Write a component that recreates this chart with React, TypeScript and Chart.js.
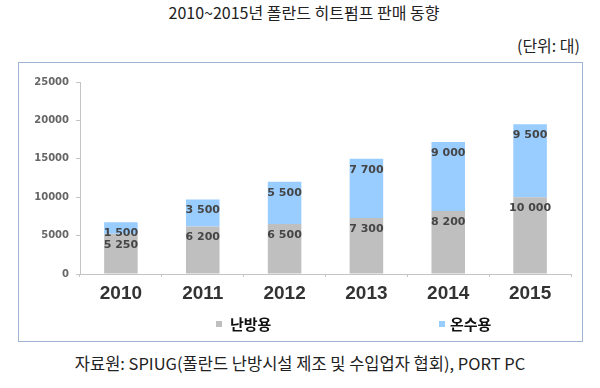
import React, { useEffect, useRef } from "react";
import { Chart, registerables } from "chart.js";

Chart.register(...registerables);

const title = "2010~2015년 폴란드 히트펌프 판매 동향";
const unitNote = "(단위: 대)";
const sourceNote = "자료원: SPIUG(폴란드 난방시설 제조 및 수입업자 협회), PORT PC";

const years = ["2010", "2011", "2012", "2013", "2014", "2015"];
const heating = [5250, 6200, 6500, 7300, 8200, 10000];
const hotWater = [1500, 3500, 5500, 7700, 9000, 9500];
const seriesNames = ["난방용", "온수용"];
const seriesColors = ["#bfbfbf", "#99ccff"];
const yMin = 0;
const yMax = 25000;
const yStep = 5000;

const fmt = (v: number) => String(v).replace(/\B(?=(\d{3})+(?!\d))/g, " ");

const valueLabels = {
  id: "valueLabels",
  afterDatasetsDraw(chart: any) {
    const ctx = chart.ctx;
    ctx.save();
    ctx.font = "bold 11px 'DejaVu Sans'";
    ctx.fillStyle = "#454545";
    ctx.textAlign = "center";
    ctx.textBaseline = "middle";
    chart.data.datasets.forEach((ds: any, i: number) => {
      const meta = chart.getDatasetMeta(i);
      meta.data.forEach((el: any, j: number) => {
        ctx.fillText(fmt(ds.data[j]), el.x, el.y + 11);
      });
    });
    ctx.restore();
  },
};

const customLegend = {
  id: "customLegend",
  afterDraw(chart: any) {
    const ctx = chart.ctx;
    const items = [
      { mx: 200, tx: 211 },
      { mx: 423, tx: 431 },
    ];
    const y = 261;
    ctx.save();
    ctx.font = "bold 15px 'Noto Sans CJK KR'";
    ctx.textBaseline = "middle";
    ctx.textAlign = "left";
    chart.data.datasets.forEach((ds: any, i: number) => {
      const it = items[i];
      if (!it) return;
      ctx.fillStyle = ds.backgroundColor;
      ctx.fillRect(it.mx - 3, y - 3, 6, 6);
      ctx.fillStyle = "#111";
      ctx.fillText(ds.label, it.tx, y);
    });
    ctx.restore();
  },
};

export default function App() {
  const ref = useRef<HTMLCanvasElement>(null);

  useEffect(() => {
    if (!ref.current) return;
    const chart = new Chart(ref.current, {
      type: "bar",
      data: {
        labels: years,
        datasets: [
          { label: seriesNames[0], data: heating, backgroundColor: seriesColors[0] },
          { label: seriesNames[1], data: hotWater, backgroundColor: seriesColors[1] },
        ],
      },
      options: {
        animation: false,
        responsive: false,
        maintainAspectRatio: false,
        layout: { padding: { top: 19, right: 11, left: 0, bottom: 0 } },
        datasets: { bar: { categoryPercentage: 1, barPercentage: 0.41 } },
        plugins: {
          legend: { display: false },
          tooltip: { enabled: false },
          title: { display: false },
        },
        scales: {
          x: {
            stacked: true,
            grid: { drawOnChartArea: false, drawTicks: true, tickLength: 3, color: "#c4c4c4", offset: true },
            border: { color: "#c4c4c4", width: 1 },
            ticks: { color: "#333", font: { family: "'Liberation Sans', Arial", size: 19, weight: "bold" }, padding: 5 },
            afterFit: (s: any) => { s.height = 67; },
          },
          y: {
            stacked: true,
            min: yMin,
            max: yMax,
            grid: { drawOnChartArea: false, drawTicks: true, tickLength: 4, color: "#c4c4c4" },
            border: { color: "#c4c4c4", width: 1 },
            ticks: {
              stepSize: yStep,
              color: "#666",
              font: { family: "'DejaVu Sans'", size: 10, weight: "bold" },
              padding: 7,
              callback: (v: any) => String(v),
            },
            afterFit: (s: any) => { s.width = 61; },
          },
        },
      },
      plugins: [valueLabels, customLegend],
    });
    return () => chart.destroy();
  }, []);

  const textFont = "'Noto Sans CJK KR', 'Noto Sans', sans-serif";
  return (
    <div style={{ position: "fixed", left: 0, top: 0, width: 600, height: 388, background: "#fff", fontFamily: textFont, color: "#222" }}>
      <div style={{ position: "absolute", left: 0, top: 0, width: 608, textAlign: "center", fontSize: 16, lineHeight: "24px" }}>{title}</div>
      <div style={{ position: "absolute", right: 20, top: 33, fontSize: 16, lineHeight: "24px" }}>{unitNote}</div>
      <div style={{ position: "absolute", left: 18, top: 62, width: 563, height: 278, border: "1px solid #9fb4d3" }}>
        <canvas ref={ref} width={563} height={278} style={{ display: "block", width: 563, height: 278 }} />
      </div>
      <div style={{ position: "absolute", left: 0, top: 351, width: 600, textAlign: "center", fontSize: 16.5, lineHeight: "24px" }}>{sourceNote}</div>
    </div>
  );
}
